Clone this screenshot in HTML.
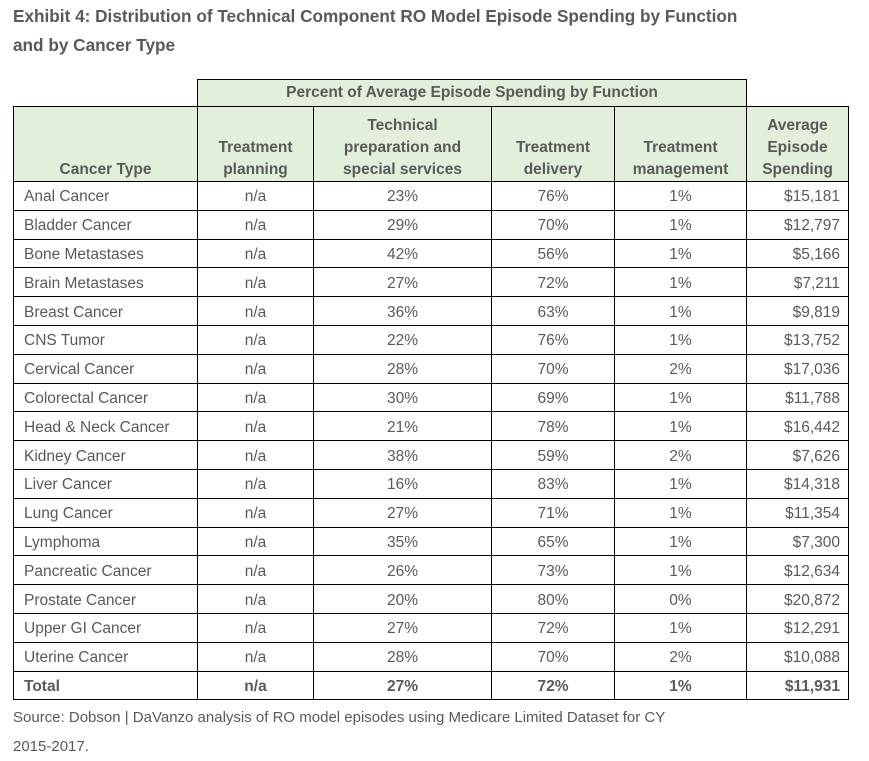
<!DOCTYPE html>
<html><head><style>
body{margin:0;width:869px;height:755px;background:#fff;font-family:"Liberation Sans",sans-serif;color:#595959;position:relative;overflow:hidden}
.t{position:absolute;left:13px;font-weight:bold;font-size:17.2px;line-height:29px;top:2px}
table{position:absolute;left:13px;top:79px;border-collapse:collapse;font-size:15.5px}
td{border:1.3px solid #000;padding:3px 6px 0;height:24.8px;text-align:center;white-space:nowrap}
td.l{text-align:left;padding-left:10px}
td.r{text-align:right;padding-right:8px}
.h td{background:#e2efda;font-weight:bold;line-height:22px;vertical-align:bottom;padding-top:0}
.tot td{font-weight:bold}
.src{position:absolute;left:13px;top:703px;font-size:15px;line-height:29px}
</style></head><body>
<div class="t">Exhibit 4: Distribution of Technical Component RO Model Episode Spending by Function<br>and by Cancer Type</div>
<table>
<colgroup><col style="width:184px"><col style="width:116px"><col style="width:178px"><col style="width:123px"><col style="width:132px"><col style="width:102px"></colgroup>
<tr class="h"><td style="border:none;background:#fff"></td><td colspan="4" style="height:26px;vertical-align:middle">Percent of Average Episode Spending by Function</td><td style="border-top:none;border-right:none;background:#fff"></td></tr>
<tr class="h"><td style="height:74px">Cancer Type</td><td>Treatment<br>planning</td><td>Technical<br>preparation and<br>special services</td><td>Treatment<br>delivery</td><td>Treatment<br>management</td><td>Average<br>Episode<br>Spending</td></tr>
<tr><td class="l">Anal Cancer</td><td>n/a</td><td>23%</td><td>76%</td><td>1%</td><td class="r">$15,181</td></tr>
<tr><td class="l">Bladder Cancer</td><td>n/a</td><td>29%</td><td>70%</td><td>1%</td><td class="r">$12,797</td></tr>
<tr><td class="l">Bone Metastases</td><td>n/a</td><td>42%</td><td>56%</td><td>1%</td><td class="r">$5,166</td></tr>
<tr><td class="l">Brain Metastases</td><td>n/a</td><td>27%</td><td>72%</td><td>1%</td><td class="r">$7,211</td></tr>
<tr><td class="l">Breast Cancer</td><td>n/a</td><td>36%</td><td>63%</td><td>1%</td><td class="r">$9,819</td></tr>
<tr><td class="l">CNS Tumor</td><td>n/a</td><td>22%</td><td>76%</td><td>1%</td><td class="r">$13,752</td></tr>
<tr><td class="l">Cervical Cancer</td><td>n/a</td><td>28%</td><td>70%</td><td>2%</td><td class="r">$17,036</td></tr>
<tr><td class="l">Colorectal Cancer</td><td>n/a</td><td>30%</td><td>69%</td><td>1%</td><td class="r">$11,788</td></tr>
<tr><td class="l">Head &amp; Neck Cancer</td><td>n/a</td><td>21%</td><td>78%</td><td>1%</td><td class="r">$16,442</td></tr>
<tr><td class="l">Kidney Cancer</td><td>n/a</td><td>38%</td><td>59%</td><td>2%</td><td class="r">$7,626</td></tr>
<tr><td class="l">Liver Cancer</td><td>n/a</td><td>16%</td><td>83%</td><td>1%</td><td class="r">$14,318</td></tr>
<tr><td class="l">Lung Cancer</td><td>n/a</td><td>27%</td><td>71%</td><td>1%</td><td class="r">$11,354</td></tr>
<tr><td class="l">Lymphoma</td><td>n/a</td><td>35%</td><td>65%</td><td>1%</td><td class="r">$7,300</td></tr>
<tr><td class="l">Pancreatic Cancer</td><td>n/a</td><td>26%</td><td>73%</td><td>1%</td><td class="r">$12,634</td></tr>
<tr><td class="l">Prostate Cancer</td><td>n/a</td><td>20%</td><td>80%</td><td>0%</td><td class="r">$20,872</td></tr>
<tr><td class="l">Upper GI Cancer</td><td>n/a</td><td>27%</td><td>72%</td><td>1%</td><td class="r">$12,291</td></tr>
<tr><td class="l">Uterine Cancer</td><td>n/a</td><td>28%</td><td>70%</td><td>2%</td><td class="r">$10,088</td></tr>
<tr class="tot"><td class="l">Total</td><td>n/a</td><td>27%</td><td>72%</td><td>1%</td><td class="r">$11,931</td></tr>
</table>
<div class="src">Source: Dobson | DaVanzo analysis of RO model episodes using Medicare Limited Dataset for CY<br>2015-2017.</div>
</body></html>
